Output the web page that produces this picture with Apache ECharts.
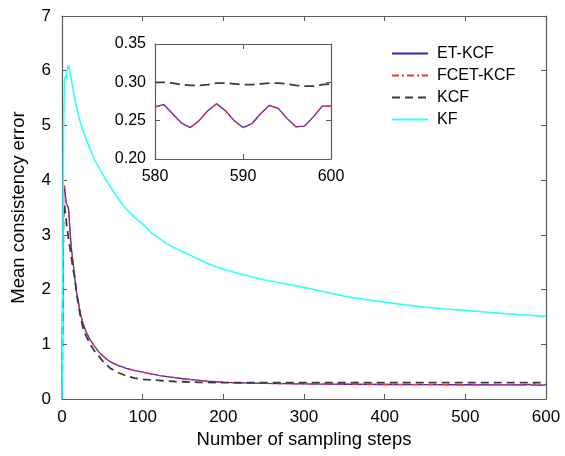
<!DOCTYPE html>
<html>
<head>
<meta charset="utf-8">
<script src="https://cdn.jsdelivr.net/npm/echarts@6/dist/echarts.min.js"></script>
<style>
html,body{margin:0;padding:0;background:#fff;}
#chart{width:565px;height:456px;}
</style>
</head>
<body>
<div id="chart"></div>
<script>
// ---- Data ----
const seriesNames = ['ET-KCF', 'FCET-KCF', 'KCF', 'KF'];

const mainSteps = [0,1,2,3,4,5,6,7,8,9,10,12,14,16,18,20,23,26,30,35,40,45,50,55,60,70,80,90,100,110,120,130,140,150,160,170,180,190,200,225,250,275,300,350,400,450,500,550,575];
const etMain   = [0,2.0,3.85,3.9,3.75,3.6,3.55,3.58,3.5,3.3,3.05,2.7,2.45,2.2,1.95,1.8,1.55,1.38,1.22,1.08,0.97,0.87,0.8,0.73,0.68,0.61,0.56,0.52,0.49,0.46,0.43,0.41,0.39,0.37,0.355,0.34,0.325,0.315,0.305,0.295,0.285,0.28,0.275,0.27,0.265,0.262,0.26,0.258,0.26];
const fcetMain = [0,2.0,3.84,3.9,3.76,3.6,3.54,3.57,3.5,3.31,3.05,2.71,2.45,2.2,1.96,1.8,1.55,1.38,1.22,1.08,0.97,0.87,0.8,0.73,0.68,0.61,0.56,0.52,0.49,0.46,0.43,0.41,0.39,0.37,0.355,0.34,0.325,0.315,0.305,0.295,0.285,0.28,0.275,0.27,0.265,0.262,0.26,0.258,0.26];
const kcfMain  = [0,2.0,3.5,3.55,3.4,3.3,3.15,3.05,2.95,2.85,2.75,2.55,2.35,2.2,1.95,1.75,1.5,1.3,1.15,1.0,0.88,0.8,0.7,0.63,0.56,0.48,0.42,0.38,0.36,0.35,0.34,0.33,0.32,0.315,0.31,0.305,0.303,0.3,0.298,0.297,0.298,0.3,0.299,0.3,0.298,0.3,0.299,0.3,0.298];

const kfSteps = [0,1,2,3,4,5,6,7,8,9,10,12,15,20,25,30,35,40,45,50,60,70,80,90,100,110,120,130,140,150,160,170,180,190,200,225,250,275,300,325,350,375,400,425,450,475,500,525,550,575,600];
const kfVals  = [0,2.5,5.0,5.8,5.9,5.85,6.0,6.05,6.1,6.05,5.95,5.8,5.55,5.2,4.95,4.75,4.55,4.38,4.25,4.12,3.88,3.65,3.47,3.32,3.2,3.05,2.94,2.84,2.76,2.69,2.62,2.55,2.48,2.42,2.37,2.27,2.18,2.11,2.04,1.96,1.88,1.82,1.77,1.72,1.68,1.645,1.62,1.59,1.56,1.535,1.51];

const insetSteps = [580,581,582,583,584,585,586,587,588,589,590,591,592,593,594,595,596,597,598,599,600];
const etInset   = [0.268,0.271,0.259,0.247,0.241,0.250,0.263,0.272,0.263,0.250,0.241,0.246,0.259,0.270,0.266,0.253,0.242,0.243,0.255,0.269,0.269];
const fcetInset = [0.268,0.271,0.259,0.247,0.241,0.250,0.263,0.272,0.263,0.250,0.241,0.246,0.259,0.270,0.266,0.253,0.242,0.243,0.255,0.269,0.269];
const kcfInset  = [0.300,0.300,0.299,0.297,0.296,0.296,0.297,0.299,0.299,0.298,0.297,0.297,0.298,0.299,0.299,0.298,0.296,0.295,0.295,0.297,0.298];

const xTicksMain = [0,100,200,300,400,500,600];
const yTicksMain = [0,1,2,3,4,5,6,7];
const xTicksInset = [580,590,600];
const yTicksInset = [0.20,0.25,0.30,0.35];

// ---- Build ----
const zip = (xs, ys) => xs.map((x, i) => [x, ys[i]]);
const mainEt   = zip(mainSteps, etMain).concat(zip(insetSteps, etInset));
const mainFcet = zip(mainSteps, fcetMain).concat(zip(insetSteps, fcetInset));
const mainKcf  = zip(mainSteps, kcfMain).concat(zip(insetSteps, kcfInset));
const mainKf   = zip(kfSteps, kfVals);

const FONT = "'Liberation Sans', Arial, sans-serif";
const colors = {et:'#2a2ad0', fcet:'#f0303c', kcf:'#3a3a3a', kf:'#33ffff'};
const axisCol = '#5a5a5a';

function axisBase(extra) {
  return Object.assign({
    axisLine: {show: true, onZero: false, lineStyle: {color: axisCol, width: 1.2}},
    axisTick: {show: true, inside: true, length: 5, lineStyle: {color: axisCol, width: 1}},
    splitLine: {show: false},
    axisLabel: {color: '#000', fontFamily: FONT, fontSize: 17}
  }, extra);
}

const chart = echarts.init(document.getElementById('chart'), null, {renderer: 'canvas'});
chart.setOption({
  animation: false,
  backgroundColor: '#fff',
  textStyle: {fontFamily: FONT},
  grid: [
    {left: 62, top: 16, width: 484, height: 383, containLabel: false},
    {left: 155, top: 44, width: 176, height: 115, containLabel: false, show: true, backgroundColor: '#fff', borderWidth: 0}
  ],
  legend: {
    data: seriesNames,
    orient: 'vertical',
    left: 391, top: 45.5, padding: 0,
    itemWidth: 36, itemHeight: 14, itemGap: 6,
    itemStyle: {opacity: 0},
    textStyle: {color: '#000', fontFamily: FONT, fontSize: 16, padding: [0,0,0,4]},
    backgroundColor: 'transparent'
  },
  xAxis: [
    axisBase({gridIndex: 0, type: 'value', min: xTicksMain[0], max: xTicksMain[xTicksMain.length-1], interval: 100,
      name: 'Number of sampling steps', nameLocation: 'middle', nameGap: 31,
      nameTextStyle: {color: '#000', fontFamily: FONT, fontSize: 18.5},
      axisLabel: {color: '#000', fontFamily: FONT, fontSize: 17, margin: 10}}),
    axisBase({gridIndex: 0, type: 'value', position: 'top', min: 0, max: 600, interval: 100, axisLabel: {show: false}}),
    axisBase({gridIndex: 1, type: 'value', min: xTicksInset[0], max: xTicksInset[xTicksInset.length-1], interval: 10,
      axisLabel: {color: '#000', fontFamily: FONT, fontSize: 16, margin: 10}}),
    axisBase({gridIndex: 1, type: 'value', position: 'top', min: 580, max: 600, interval: 10, axisLabel: {show: false}})
  ],
  yAxis: [
    axisBase({gridIndex: 0, type: 'value', min: yTicksMain[0], max: yTicksMain[yTicksMain.length-1], interval: 1,
      name: 'Mean consistency error', nameLocation: 'middle', nameGap: 34,
      nameTextStyle: {color: '#000', fontFamily: FONT, fontSize: 18.5},
      axisLabel: {color: '#000', fontFamily: FONT, fontSize: 17, margin: 11}}),
    axisBase({gridIndex: 0, type: 'value', position: 'right', min: 0, max: 7, interval: 1, axisLabel: {show: false}}),
    axisBase({gridIndex: 1, type: 'value', min: yTicksInset[0], max: yTicksInset[yTicksInset.length-1], interval: 0.05,
      axisLabel: {color: '#000', fontFamily: FONT, fontSize: 16, margin: 9, formatter: v => v.toFixed(2)}}),
    axisBase({gridIndex: 1, type: 'value', position: 'right', min: 0.2, max: 0.35, interval: 0.05, axisLabel: {show: false}})
  ],
  series: [
    {name: 'ET-KCF', type: 'line', xAxisIndex: 0, yAxisIndex: 0, data: mainEt, symbol: 'none', color: colors.et,
      lineStyle: {color: colors.et, width: 1.3, type: 'solid'}, z: 2},
    {name: 'FCET-KCF', type: 'line', xAxisIndex: 0, yAxisIndex: 0, data: mainFcet, symbol: 'none', color: colors.fcet,
      lineStyle: {color: colors.fcet, width: 1.3, type: [7, 3, 2, 3]}, z: 3},
    {name: 'KCF', type: 'line', xAxisIndex: 0, yAxisIndex: 0, data: mainKcf, symbol: 'none', color: colors.kcf,
      lineStyle: {color: colors.kcf, width: 1.8, type: [8, 5]}, z: 4},
    {name: 'KF', type: 'line', xAxisIndex: 0, yAxisIndex: 0, data: mainKf, symbol: 'none', color: colors.kf,
      lineStyle: {color: colors.kf, width: 1.6, type: 'solid'}, z: 5},
    {name: 'ET-KCF', type: 'line', xAxisIndex: 2, yAxisIndex: 2, data: zip(insetSteps, etInset), symbol: 'none', color: colors.et,
      lineStyle: {color: colors.et, width: 1.3}, z: 6},
    {name: 'FCET-KCF', type: 'line', xAxisIndex: 2, yAxisIndex: 2, data: zip(insetSteps, fcetInset), symbol: 'none', color: colors.fcet,
      lineStyle: {color: colors.fcet, width: 1.3, type: [7, 3, 2, 3]}, z: 7},
    {name: 'KCF', type: 'line', xAxisIndex: 2, yAxisIndex: 2, data: zip(insetSteps, kcfInset), symbol: 'none', color: colors.kcf,
      lineStyle: {color: colors.kcf, width: 1.8, type: [10, 5]}, z: 8}
  ]
});
</script>
</body>
</html>
